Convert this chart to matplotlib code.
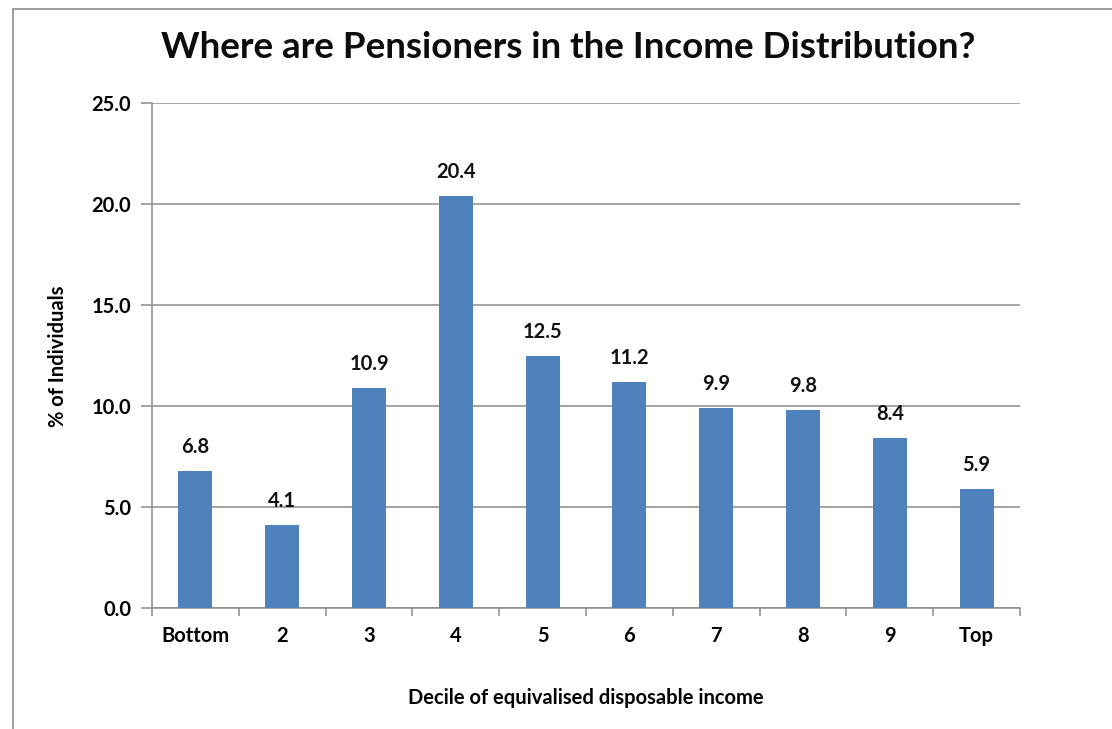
import matplotlib.pyplot as plt
from matplotlib.patches import Rectangle

# Дані
deciles = ['Bottom', '2', '3', '4', '5', '6', '7', '8', '9', 'Top']
pct_individuals = [6.8, 4.1, 10.9, 20.4, 12.5, 11.2, 9.9, 9.8, 8.4, 5.9]
yticks = [0, 5, 10, 15, 20, 25]

plt.rcParams['font.family'] = ['Lato', 'DejaVu Sans']
plt.rcParams['font.weight'] = 'bold'
fs = 14.5

fig = plt.figure(figsize=(11.12, 7.29), dpi=100)
ax = fig.add_axes([152 / 1112, 1 - 608 / 729, 868 / 1112, 505 / 729])

# Рамка навколо діаграми
fig.patches.append(Rectangle((13 / 1112, -0.1), 1.2, 1 - 9 / 729 + 0.1,
                             transform=fig.transFigure, fill=False,
                             edgecolor='#8c8c8c', linewidth=1.2))

x = range(len(deciles))
ax.bar(x, pct_individuals, width=0.39, color='#4F81BD', zorder=3)
for xi, v in zip(x, pct_individuals):
    ax.annotate(f'{v:.1f}', (xi, v), xytext=(0, 10), textcoords='offset points',
                ha='center', va='bottom', fontsize=fs, fontweight='bold', color='#111111')

ax.set_xlim(-0.5, len(deciles) - 0.5)
ax.set_ylim(0, 25)
ax.set_yticks(yticks)
ax.set_yticklabels([f'{t:.1f}' for t in yticks], fontsize=fs, fontweight='bold')
ax.yaxis.grid(True, color='#8c8c8c', linewidth=1.1, zorder=0)
ax.set_axisbelow(True)

ax.set_xticks([i + 0.5 for i in range(-1, len(deciles))], minor=False)
ax.set_xticklabels([])
ax.set_xticks(list(x), minor=True)
ax.set_xticklabels(deciles, minor=True, fontsize=fs, fontweight='bold')
ax.tick_params(axis='x', which='major', length=6, color='#8c8c8c', width=1.1)
ax.tick_params(axis='x', which='minor', length=0, pad=13)
ax.tick_params(axis='y', length=8, color='#8c8c8c', width=1.1, pad=7)

for side in ['top', 'right']:
    ax.spines[side].set_visible(False)
for side in ['left', 'bottom']:
    ax.spines[side].set_color('#8c8c8c')
    ax.spines[side].set_linewidth(1.1)

fig.text(568 / 1112, 1 - 48 / 729, 'Where are Pensioners in the Income Distribution?',
         ha='center', va='center', fontsize=26.5, fontweight='bold', color='#0d0d0d')
fig.text(58 / 1112, 1 - 356 / 729, '% of Individuals', rotation=90,
         ha='center', va='center', fontsize=fs, fontweight='bold')
fig.text(586 / 1112, 1 - 698 / 729, 'Decile of equivalised disposable income',
         ha='center', va='center', fontsize=fs, fontweight='bold')

fig.savefig('out.png', dpi=100)
